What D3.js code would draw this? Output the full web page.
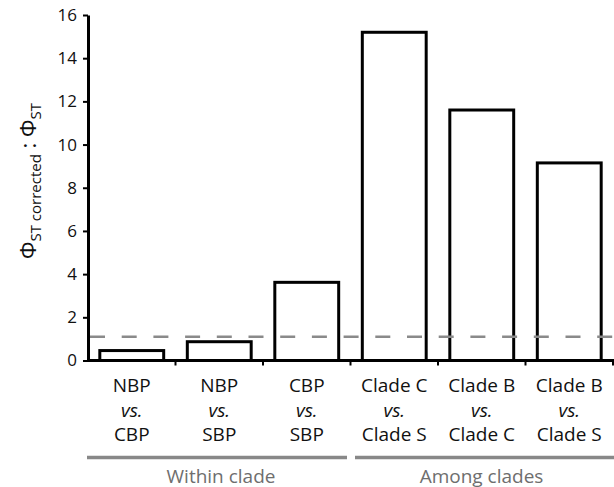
<!DOCTYPE html>
<html>
<head>
<meta charset="utf-8">
<script src="https://cdn.jsdelivr.net/npm/d3@7"></script>
<style>
  body { margin: 0; background: #fff; }
  text { font-family: "Open Sans", sans-serif; }
</style>
</head>
<body>
<svg id="chart" width="614" height="487"></svg>
<script>
const categories = ["NBP vs. CBP", "NBP vs. SBP", "CBP vs. SBP", "Clade C vs. Clade S", "Clade B vs. Clade C", "Clade B vs. Clade S"];
const labelTop = ["NBP", "NBP", "CBP", "Clade C", "Clade B", "Clade B"];
const labelMid = ["vs.", "vs.", "vs.", "vs.", "vs.", "vs."];
const labelBottom = ["CBP", "SBP", "SBP", "Clade S", "Clade C", "Clade S"];
const values = [0.46, 0.87, 3.62, 15.2, 11.6, 9.15];
const refValue = [1.1];
const yTicks = [0, 2, 4, 6, 8, 10, 12, 14, 16];
const groupNames = ["Within clade", "Among clades"];
const groupStart = [0, 3];
const groupEnd = [2, 5];

const svg = d3.select("#chart");
const x = d3.scaleBand().domain(categories).range([88, 613]).paddingInner(0.27).paddingOuter(0.135);
const y = d3.scaleLinear().domain([0, 16]).range([360.5, 15]);
const half = (x.step() - x.bandwidth()) / 2;

// bars
svg.append("g").selectAll("rect").data(values).join("rect")
  .attr("x", (d, i) => x(categories[i]))
  .attr("y", d => y(d))
  .attr("width", x.bandwidth())
  .attr("height", d => y(0) - y(d))
  .attr("fill", "#fff")
  .attr("stroke", "#000")
  .attr("stroke-width", 3);

// reference dashed line
svg.append("g").selectAll("line").data(refValue).join("line")
  .attr("x1", 90).attr("x2", 614)
  .attr("y1", d => y(d)).attr("y2", d => y(d))
  .attr("stroke", "#8a8a8a")
  .attr("stroke-width", 2.5)
  .attr("stroke-dasharray", "15,16.7");

// y axis
const yAxis = svg.append("g").attr("transform", "translate(88,0)")
  .call(d3.axisLeft(y).tickValues(yTicks).tickSize(5).tickPadding(6).tickSizeOuter(0));
yAxis.select(".domain").attr("stroke", "#000").attr("stroke-width", 3);
yAxis.selectAll(".tick line").attr("stroke", "#000").attr("stroke-width", 2);
yAxis.selectAll(".tick text").attr("font-size", 17).attr("font-family", "Open Sans").attr("fill", "#111");

// x axis line and boundary ticks
const boundaries = categories.map(c => x(c) - half).concat([x(categories[categories.length - 1]) + x.bandwidth() + half]);
svg.append("line").attr("x1", 88).attr("x2", 614).attr("y1", y(0)).attr("y2", y(0))
  .attr("stroke", "#000").attr("stroke-width", 3);
svg.append("g").selectAll("line").data(boundaries.slice(1)).join("line")
  .attr("x1", d => d).attr("x2", d => d)
  .attr("y1", y(0)).attr("y2", y(0) + 5)
  .attr("stroke", "#000").attr("stroke-width", 2);

// category labels
const lab = svg.append("g").selectAll("text").data(categories).join("text")
  .attr("text-anchor", "middle")
  .attr("font-size", 19)
  .attr("fill", "#111");
lab.append("tspan").attr("x", d => x(d) + x.bandwidth() / 2).attr("y", 392).text((d, i) => labelTop[i]);
lab.append("tspan").attr("x", d => x(d) + x.bandwidth() / 2).attr("y", 416.5).attr("font-style", "italic").text((d, i) => labelMid[i]);
lab.append("tspan").attr("x", d => x(d) + x.bandwidth() / 2).attr("y", 440.5).text((d, i) => labelBottom[i]);

// group lines & labels
const gx1 = (i) => i === 0 ? 87 : boundaries[groupStart[i]] + 4.5;
const gx2 = (i) => groupEnd[i] === categories.length - 1 ? 614 : boundaries[groupEnd[i] + 1] - 3.5;
svg.append("g").selectAll("line").data(groupNames).join("line")
  .attr("x1", (d, i) => gx1(i)).attr("x2", (d, i) => gx2(i))
  .attr("y1", 457.5).attr("y2", 457.5)
  .attr("stroke", "#888").attr("stroke-width", 3.5);
svg.append("g").selectAll("text").data(groupNames).join("text")
  .attr("x", (d, i) => (gx1(i) + gx2(i)) / 2 + (i === 0 ? 4 : -3))
  .attr("y", 482.5)
  .attr("text-anchor", "middle")
  .attr("font-size", 19)
  .attr("fill", "#6e6e6e")
  .text(d => d);

// y axis title
const yt = svg.append("text")
  .attr("transform", "translate(36,181) rotate(-90)")
  .attr("text-anchor", "middle")
  .attr("font-size", 22)
  .attr("fill", "#111");
yt.append("tspan").text("Φ");
yt.append("tspan").attr("font-size", 15).attr("dy", 5).text("ST corrected");
yt.append("tspan").attr("dy", -5).text(" : Φ");
yt.append("tspan").attr("font-size", 15).attr("dy", 5).text("ST");
</script>
</body>
</html>
